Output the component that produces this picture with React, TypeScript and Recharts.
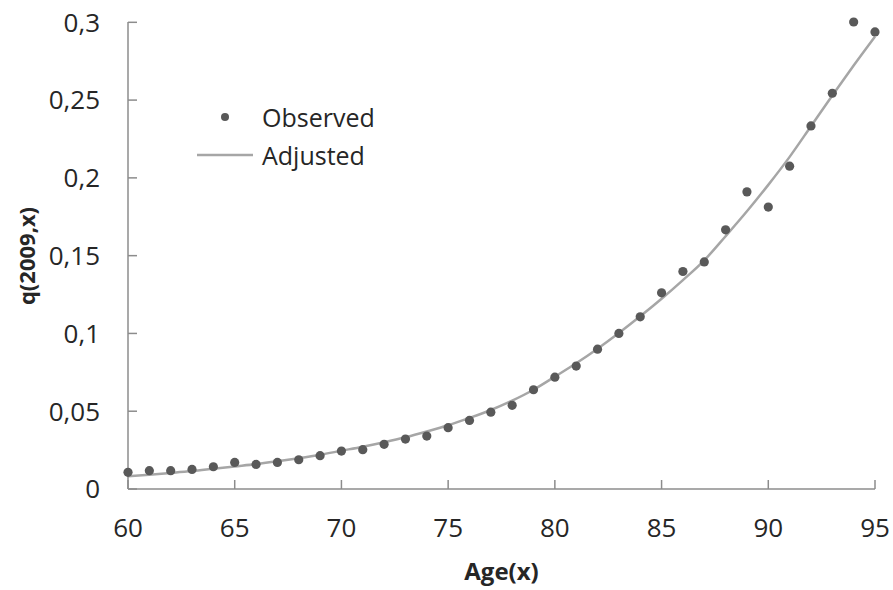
import { ComposedChart, Line, Scatter, XAxis, YAxis, Legend } from 'recharts';

// Alter (x)
const ages = [60, 61, 62, 63, 64, 65, 66, 67, 68, 69, 70, 71, 72, 73, 74, 75, 76, 77, 78, 79, 80, 81, 82, 83, 84, 85, 86, 87, 88, 89, 90, 91, 92, 93, 94, 95];
// beobachtete Werte q(2009,x)
const observed = [0.0107, 0.0118, 0.0118, 0.0126, 0.0143, 0.0171, 0.0158, 0.0171, 0.0188, 0.0214, 0.0244, 0.0253, 0.0287, 0.0321, 0.034, 0.0394, 0.0441, 0.0494, 0.0538, 0.0638, 0.0719, 0.079, 0.0899, 0.1, 0.1107, 0.1261, 0.1398, 0.146, 0.1666, 0.191, 0.1812, 0.2075, 0.2334, 0.2544, 0.3002, 0.2938];
// angepasste Kurve
const adjusted = [0.0082, 0.0092, 0.0103, 0.0115, 0.013, 0.0145, 0.016, 0.0178, 0.0198, 0.022, 0.0246, 0.0272, 0.0301, 0.0333, 0.037, 0.041, 0.0457, 0.0508, 0.0568, 0.0638, 0.0722, 0.0808, 0.0902, 0.1003, 0.111, 0.1223, 0.1343, 0.147, 0.1625, 0.1785, 0.1955, 0.2135, 0.2332, 0.253, 0.2722, 0.2908];
const xTicks = [60, 65, 70, 75, 80, 85, 90, 95];
const yTicks = [0, 0.05, 0.1, 0.15, 0.2, 0.25, 0.3];

const FONT = '"Open Sans", sans-serif';
const AXIS = '#8c8c8c';
const DOT = '#595959';
const LINE = '#a6a6a6';
const TEXT = '#262626';

const data = ages.map((a, i) => ({ age: a, observed: observed[i], adjusted: adjusted[i] }));

const fmt = (v: number) => String(v).replace('.', ',');

function XTick({ x, y, payload }: any) {
  return (
    <g>
      <line x1={x} y1={y} x2={x} y2={y - 9} stroke={AXIS} strokeWidth={1.5} />
      <text x={x} y={y + 48} textAnchor="middle" fontSize={26} fontFamily={FONT} fill={TEXT}>{payload.value}</text>
    </g>
  );
}

function YTick({ x, y, payload }: any) {
  return (
    <g>
      <line x1={x} y1={y} x2={x + 9} y2={y} stroke={AXIS} strokeWidth={1.5} />
      <text x={x - 28} y={y + 9.3} textAnchor="end" fontSize={26} fontFamily={FONT} fill={TEXT}>{fmt(payload.value)}</text>
    </g>
  );
}

function Dot(props: any) {
  const { cx, cy } = props;
  return <circle cx={cx} cy={cy} r={4.6} fill={DOT} />;
}

function LegendBox() {
  return (
    <div style={{ fontFamily: FONT, fontSize: 25, color: TEXT, lineHeight: '38px' }}>
      <div style={{ display: 'flex', alignItems: 'center' }}>
        <svg width={67} height={38}><circle cx={30} cy={19} r={4} fill={DOT} /></svg>
        <span>Observed</span>
      </div>
      <div style={{ display: 'flex', alignItems: 'center' }}>
        <svg width={67} height={38}><line x1={2} y1={19} x2={58} y2={19} stroke={LINE} strokeWidth={2.5} /></svg>
        <span>Adjusted</span>
      </div>
    </div>
  );
}

export default function App() {
  return (
    <div style={{ position: 'absolute', left: 0, top: 0, width: 893, height: 590, background: '#fff' }}>
      <ComposedChart width={893} height={590} data={data} margin={{ top: 22, right: 18, bottom: 0, left: 0 }}>
        <XAxis
          dataKey="age"
          type="number"
          domain={[60, 95]}
          ticks={xTicks}
          height={101}
          stroke={AXIS}
          strokeWidth={1.5}
          tickLine={false}
          tickSize={0}
          tickMargin={0}
          tick={<XTick />}
          label={{
            content: (p: any) => (
              <text x={p.viewBox.x + p.viewBox.width / 2} y={580} textAnchor="middle" fontSize={24} fontWeight="bold" fontFamily={FONT} fill={TEXT}>Age(x)</text>
            ),
          }}
        />
        <YAxis
          type="number"
          domain={[0, 0.3]}
          ticks={yTicks}
          width={128}
          stroke={AXIS}
          strokeWidth={1.5}
          tickLine={false}
          tickSize={0}
          tickMargin={0}
          tick={<YTick />}
          label={{
            content: () => (
              <text x={26} y={256} transform="rotate(-90 26 256)" textAnchor="middle" dominantBaseline="central" fontSize={22} fontWeight="bold" fontFamily={FONT} fill={TEXT}>q(2009,x)</text>
            ),
          }}
        />
        <Legend
          layout="horizontal"
          align="center"
          verticalAlign="middle"
          content={<LegendBox />}
          wrapperStyle={{ position: 'absolute', left: 195, top: 98, width: 220 }}
        />
        <Line type="monotone" dataKey="adjusted" name="Adjusted" stroke={LINE} strokeWidth={2.5} dot={false} activeDot={false} isAnimationActive={false} />
        <Scatter dataKey="observed" name="Observed" fill={DOT} shape={<Dot />} isAnimationActive={false} />
      </ComposedChart>
    </div>
  );
}
